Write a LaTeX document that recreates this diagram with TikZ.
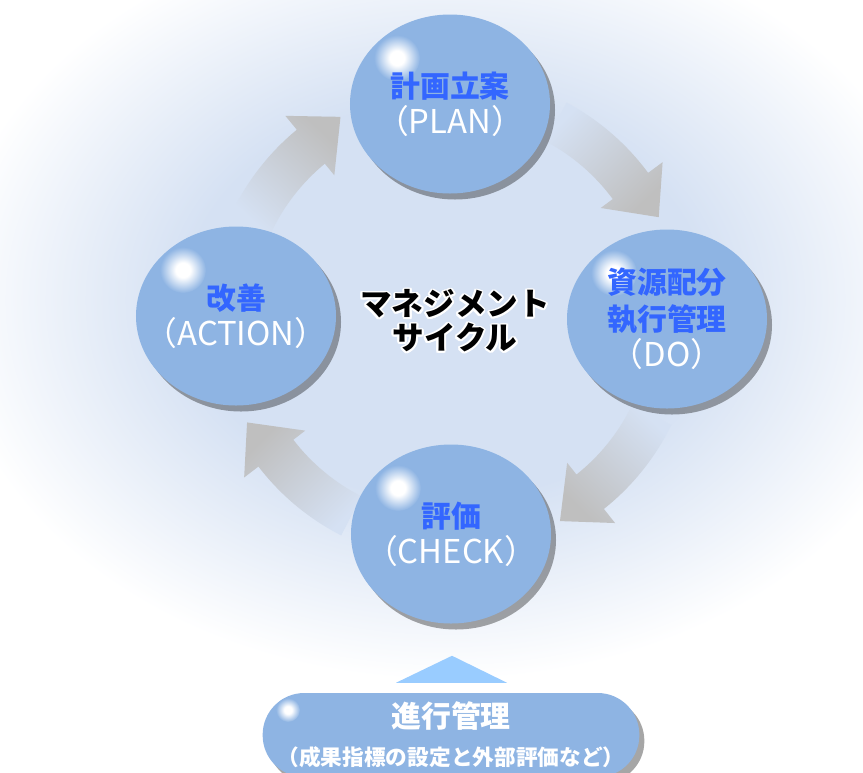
\documentclass[tikz,border=0pt]{standalone}
\usepackage{fontspec}
\setmainfont{Noto Sans CJK JP}
\usepackage{contour}
\usetikzlibrary{shapes.geometric,shadows,calc}

\definecolor{glowblue}{HTML}{D5E1F3}
\definecolor{discblue}{HTML}{8EB4E3}
\definecolor{kanjiblue}{HTML}{3366FF}
\definecolor{arrowgray}{HTML}{BFBFBF}
\definecolor{tipblue}{HTML}{99CCFF}
\pgfdeclareradialshading{glow}{\pgfpoint{0bp}{0bp}}{color(0bp)=(glowblue); color(13bp)=(glowblue); color(25bp)=(white); color(50bp)=(white)}
\pgfdeclareradialshading{gloss}{\pgfpoint{0bp}{0bp}}{color(0bp)=(white); color(8bp)=(white); color(25bp)=(discblue); color(50bp)=(discblue)}
\contourlength{1.6pt}
\newcommand{\kanji}[1]{{\fontsize{25.5}{31}\selectfont\textcolor{kanjiblue}{\bfseries #1}}}

\tikzset{
  stage/.style={ellipse, fill=discblue, minimum width=6cm, minimum height=5.37cm, inner sep=0pt,
    drop shadow={shadow xshift=0.15cm, shadow yshift=-0.18cm, fill=black, opacity=0.35}},
  stagetext/.style={align=center, text=white, font=\fontsize{28}{31}\selectfont},
  progbox/.style={rectangle, rounded corners=1.25cm, fill=discblue, minimum width=11.3cm,
    minimum height=2.52cm, inner sep=0pt, align=center, text=white,
    drop shadow={shadow xshift=0.15cm, shadow yshift=-0.18cm, fill=black, opacity=0.35}},
  gloss/.style={shading=gloss}
}

\begin{document}
\begin{tikzpicture}[x=0.03cm, y=-0.03cm]
  \clip (0,0) rectangle (863,772);
  \fill[white] (0,0) rectangle (863,772);
  \shade[shading=glow] (445,300) ellipse [x radius=500, y radius=380];

  \coordinate (cyc) at (452,318);

  % cycle arrows
  \foreach \tip in {119,26,-62,-153}{
    \pgfmathsetmacro{\ang}{\tip-162}
    \shade[top color=arrowgray, middle color=arrowgray!85!glowblue, bottom color=glowblue, shading angle=\ang]
      ($(cyc)+({-(\tip+36)}:244)$) arc[start angle={-(\tip+36)}, end angle={-(\tip+10.5)}, radius=244]
      -- ($(cyc)+({-(\tip+10.5)}:262)$) -- ($(cyc)+({-\tip}:230)$)
      -- ($(cyc)+({-(\tip+10.5)}:185)$) -- ($(cyc)+({-(\tip+10.5)}:200)$)
      arc[start angle={-(\tip+10.5)}, end angle={-(\tip+36)}, radius=200] -- cycle;
  }

  \node[stage] (plan) at (450,104) {};
  \node[stage] (do) at (667,319) {};
  \node[stage] (check) at (451,534) {};
  \node[stage] (action) at (236,316) {};
  \foreach \n in {plan,do,check,action}
    \shade[gloss] ($(\n)+(-53,-46)$) circle (23);

  \node[stagetext] (plan-text) at (plan) {\kanji{計画立案}\\（PLAN）};
  \node[stagetext] (do-text) at (do) {\kanji{資源配分}\\\kanji{執行管理}\\（DO）};
  \node[stagetext] (check-text) at (check) {\kanji{評価}\\（CHECK）};
  \node[stagetext] (action-text) at (action) {\kanji{改善}\\（ACTION）};

  \node[font=\fontsize{27}{29}\selectfont\bfseries, align=center] (title) at (455,322)
    {\contour{white}{マネジメント}\\\contour{white}{サイクル}};

  % progress control
  \node[progbox] (prog) at (451,735) {};
  \shade[gloss] ($(prog)+(-163,-25)$) circle (12);
  \node[text=white, font=\fontsize{18.5}{32}\selectfont\bfseries, align=center] (prog-text) at (prog)
    {{\fontsize{25.5}{30}\selectfont 進行管理}\\（成果指標の設定と外部評価など）};
  \fill[tipblue] ($(prog.north)+(1,-37)$) -- ($(prog.north)+(-55,-10)$)
    -- ($(prog.north)+(56,-10)$) -- cycle;
\end{tikzpicture}
\end{document}
